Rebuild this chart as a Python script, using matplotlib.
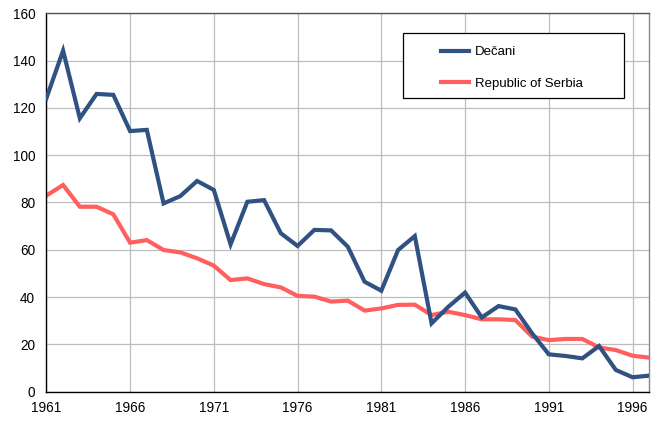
import matplotlib
matplotlib.use('Agg')
import matplotlib.pyplot as plt
from matplotlib.patches import Rectangle

years = list(range(1961, 1998))
decani = [124.0, 144.2, 115.6, 125.9, 125.5, 110.2, 110.7, 79.6, 82.7, 89.1,
          85.3, 62.3, 80.3, 81.0, 67.0, 61.6, 68.4, 68.2, 61.3, 46.5,
          42.7, 59.9, 65.8, 28.9, 35.9, 41.9, 31.4, 36.2, 34.8, 24.7,
          15.8, 15.1, 14.1, 19.3, 9.2, 6.1, 6.8]
serbia = [82.9, 87.4, 78.2, 78.2, 75.0, 63.0, 64.1, 59.9, 58.9, 56.4,
          53.3, 47.2, 47.9, 45.5, 44.1, 40.5, 40.2, 38.1, 38.5, 34.3,
          35.2, 36.7, 36.8, 32.4, 33.8, 32.4, 30.6, 30.6, 30.3, 23.3,
          21.8, 22.3, 22.3, 18.7, 17.6, 15.2, 14.4]
tick_years = [1961, 1966, 1971, 1976, 1981, 1986, 1991, 1996]

plt.rcParams['font.family'] = ['Liberation Sans', 'DejaVu Sans']

fig = plt.figure(figsize=(6.6, 4.23), dpi=100)
ax = fig.add_axes([0.0702, 0.074, 0.9136, 0.8946])

ax.plot(years, decani, color='#2F5282', lw=3.0, label='Dečani', solid_joinstyle='miter', zorder=3)
ax.plot(years, serbia, color='#FF5F5F', lw=3.0, label='Republic of Serbia', solid_joinstyle='miter', zorder=2)

ax.set_xlim(1961, 1997)
ax.set_ylim(0, 160)
ax.set_xticks(tick_years)
ax.set_yticks(range(0, 161, 20))
ax.tick_params(length=0, labelsize=9.8)
ax.tick_params(axis='y', pad=8)
ax.tick_params(axis='x', pad=7)
ax.grid(True, color='#BDBDBD', lw=0.9)
ax.set_axisbelow(True)

ax.spines['left'].set_color('black')
ax.spines['bottom'].set_color('black')
ax.spines['top'].set_color('#555555')
ax.spines['right'].set_color('#888888')
for s in ax.spines.values():
    s.set_linewidth(1.0)

# legend frame drawn separately to get the wide padding of the original
ax.add_patch(Rectangle((0.5915, 0.7754), 0.367, 0.1716, transform=ax.transAxes,
                       facecolor='white', edgecolor='black', lw=0.9, zorder=4))
leg = ax.legend(loc='center left', bbox_to_anchor=(0.654, 0.856), fontsize=9.5,
                frameon=False, handlelength=2.17, labelspacing=1.45, borderpad=0,
                borderaxespad=0, handletextpad=0.45)
leg.set_zorder(5)

fig.savefig('out.png', dpi=100)
